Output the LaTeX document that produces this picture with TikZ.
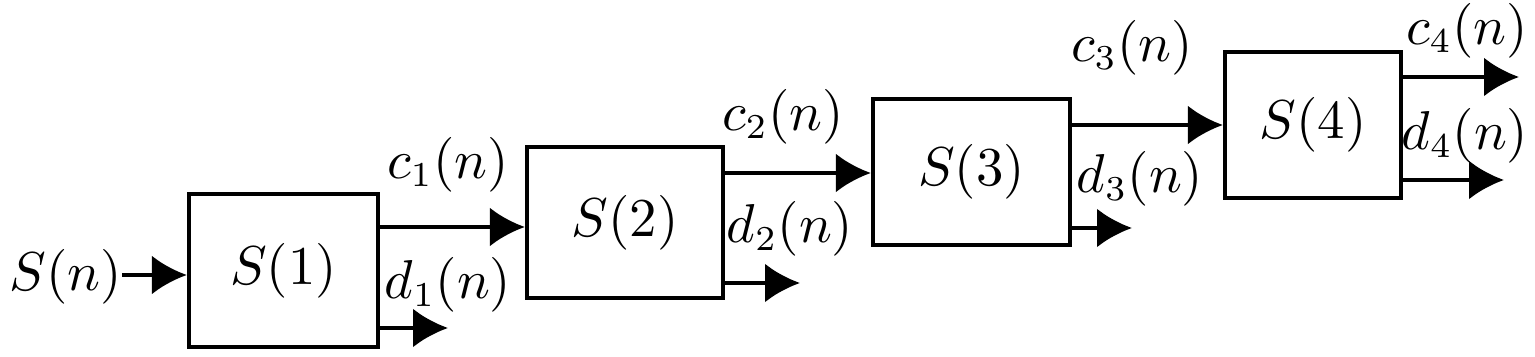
\documentclass[tikz,border=0pt]{standalone}
\usetikzlibrary{arrows.meta}
\begin{document}
\begin{tikzpicture}[x=0.2pt,y=-0.2pt,
  blk/.style={draw,line width=0.85pt,inner sep=0pt,font=\fontsize{10.5}{12}\selectfont},
  lbl/.style={inner sep=0pt,font=\fontsize{10.5}{12}\selectfont},
  sig/.style={line width=0.85pt,-{Latex[length=7pt,width=7.8pt]}}]
\useasboundingbox (0,0) rectangle (1535,357);
\node[blk,minimum width=37.8pt,minimum height=30.6pt] (b1) at (283.5,270.5) {$S(1)$};
\node[blk,minimum width=39.2pt,minimum height=30.2pt] (b2) at (625,222.5) {$S(2)$};
\node[blk,minimum width=39.4pt,minimum height=29.2pt] (b3) at (971.5,172) {$S(3)$};
\node[blk,minimum width=35.2pt,minimum height=29.2pt] (b4) at (1313,125) {$S(4)$};
% labels
\node[lbl] (sn) at (66,277) {$S(n)$};
\node[lbl] (lc1) at (448,165) {$c_1(n)$};
\node[lbl] (ld1) at (448,285) {$d_1(n)$};
\node[lbl] (lc2) at (783,117) {$c_2(n)$};
\node[lbl] (ld2) at (790,229) {$d_2(n)$};
\node[lbl] (lc3) at (1132,48) {$c_3(n)$};
\node[lbl] (ld3) at (1140,179) {$d_3(n)$};
\node[lbl] (lc4) at (1467,31) {$c_4(n)$};
\node[lbl] (ld4) at (1465,136) {$d_4(n)$};
% free ends
\coordinate (ina) at (122,275);
\coordinate (d1e) at (448,328);
\coordinate (d2e) at (800,283);
\coordinate (d3e) at (1132,228);
\coordinate (c4e) at (1519,77);
\coordinate (d4e) at (1504,180);
\coordinate (y1) at (0,227);
\coordinate (y2) at (0,173);
\coordinate (y3) at (0,125);
% connectors
\draw[sig] (ina) -- (b1.west |- ina);
\draw[sig] (b1.east |- y1) -- (b2.west |- y1);
\draw[sig] (b1.east |- d1e) -- (d1e);
\draw[sig] (b2.east |- y2) -- (b3.west |- y2);
\draw[sig] (b2.east |- d2e) -- (d2e);
\draw[sig] (b3.east |- y3) -- (b4.west |- y3);
\draw[sig] (b3.east |- d3e) -- (d3e);
\draw[sig] (b4.east |- c4e) -- (c4e);
\draw[sig] (b4.east |- d4e) -- (d4e);
\end{tikzpicture}
\end{document}
